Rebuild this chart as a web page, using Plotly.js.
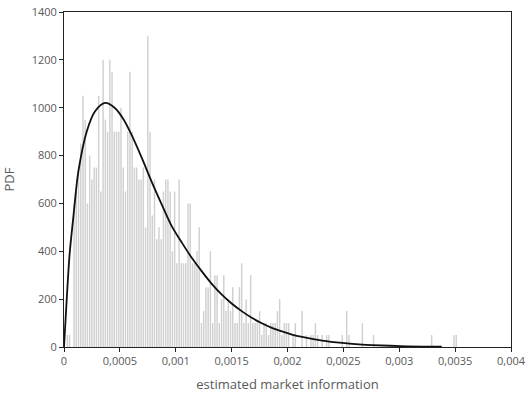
<!DOCTYPE html>
<html>
<head>
<meta charset="utf-8">
<script src="https://cdn.plot.ly/plotly-3.0.1.min.js"></script>
<style>
  html, body { margin: 0; padding: 0; background: #fff; }
  #chart { width: 530px; height: 398px; }
</style>
</head>
<body>
<div id="chart"></div>
<script>
// histogram bins: width 0.00002, first bin starts at 0
const binWidth = 0.00002;
const pdfValues = [
  0, 50, 50, 0, 600, 650, 750, 850, 1050, 950,
  600, 800, 700, 750, 750, 1050, 650, 1200, 950, 900,
  1200, 1150, 900, 900, 900, 1000, 750, 650, 900, 1150,
  900, 750, 750, 700, 700, 750, 500, 1300, 900, 550,
  700, 450, 500, 450, 650, 700, 700, 650, 400, 650,
  350, 700, 350, 350, 350, 600, 600, 350, 350, 400,
  500, 100, 150, 250, 250, 400, 100, 300, 300, 100,
  200, 300, 150, 200, 150, 250, 100, 100, 250, 350,
  100, 200, 100, 300, 100, 100, 100, 150, 50, 100,
  100, 50, 100, 100, 100, 150, 200, 50, 100, 100,
  100, 0, 50, 100, 0, 0, 150, 0, 50, 0,
  50, 50, 100, 50, 0, 50, 0, 50, 50, 0,
  0, 0, 0, 0, 50, 0, 150, 50, 0, 0,
  0, 0, 0, 100, 0, 0, 0, 0, 50, 0,
  0, 0, 0, 0, 0, 0, 0, 0, 0, 0,
  0, 0, 0, 0, 0, 0, 0, 0, 0, 0,
  0, 0, 0, 0, 50, 0, 0, 0, 0, 0,
  0, 0, 0, 0, 50, 50
];
const binCenters = pdfValues.map((v, i) => (i + 0.5) * binWidth);

// fitted density curve
const curveX = [0, 0.000025, 0.000051, 0.000084, 0.000129, 0.000203, 0.000278, 0.000367,
  0.000457, 0.000532, 0.000606, 0.000696, 0.000785, 0.000875, 0.000964, 0.00106,
  0.00114, 0.00123, 0.00132, 0.00141, 0.00150, 0.00159, 0.00168, 0.00177, 0.00186,
  0.00195, 0.00204, 0.00213, 0.00231, 0.00249, 0.00267, 0.00276, 0.00301, 0.00338];
const curveY = [0, 205, 392, 545, 735, 900, 985, 1020,
  998, 952, 885, 790, 690, 595, 505, 432,
  375, 318, 265, 220, 182, 150, 122, 99, 80,
  65, 52, 42, 27, 17, 10, 8, 4, 1];

const xTickVals = [0, 0.0005, 0.001, 0.0015, 0.002, 0.0025, 0.003, 0.0035, 0.004];
const xTickText = ['0', '0,0005', '0,001', '0,0015', '0,002', '0,0025', '0,003', '0,0035', '0,004'];

let bars = {
    x: binCenters,
    y: pdfValues,
    type: 'bar',
    marker: { color: '#d0d0d0', line: { width: 0 } },
    hoverinfo: 'x+y'
};

let curve = {
    x: curveX,
    y: curveY,
    type: 'scatter',
    mode: 'lines',
    line: { color: '#111111', width: 1.8, shape: 'spline', smoothing: 0.9 }
};

let layout = {
    width: 530,
    height: 398,
    showlegend: false,
    bargap: 0.35,
    paper_bgcolor: '#ffffff',
    plot_bgcolor: '#ffffff',
    font: { family: 'Open Sans, sans-serif', size: 11, color: '#595959' },
    margin: { l: 64, r: 19, t: 12, b: 51 },
    xaxis: {
        range: [0, 0.004],
        tickvals: xTickVals,
        ticktext: xTickText,
        ticks: 'outside',
        ticklen: 4,
        tickcolor: '#222',
        showline: true,
        linecolor: '#222',
        linewidth: 1,
        mirror: true,
        showgrid: false,
        zeroline: false,
        tickfont: { size: 11, color: '#595959' },
        title: { text: 'estimated market information', font: { size: 13, color: '#595959' }, standoff: 12 }
    },
    yaxis: {
        range: [0, 1400],
        dtick: 200,
        ticks: 'outside',
        ticklen: 4,
        tickcolor: '#222',
        showline: true,
        linecolor: '#222',
        linewidth: 1,
        mirror: true,
        showgrid: false,
        zeroline: false,
        tickfont: { size: 11, color: '#595959' },
        title: { text: 'PDF', font: { size: 13, color: '#595959' }, standoff: 14 }
    }
};

Plotly.newPlot('chart', [bars, curve], layout, { displayModeBar: false, staticPlot: true });
</script>
</body>
</html>
